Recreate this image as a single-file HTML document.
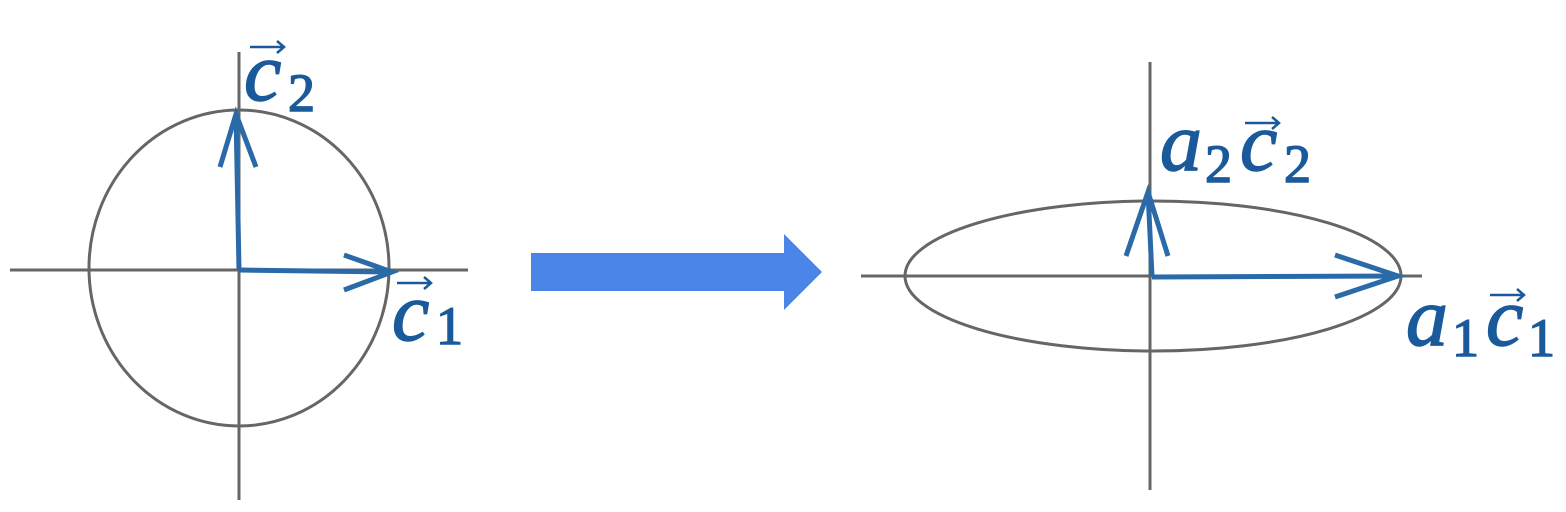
<!DOCTYPE html>
<html><head><style>body{margin:0;background:#fff}svg{display:block}</style></head><body>
<svg width="1566" height="512" viewBox="0 0 1566 512" xmlns="http://www.w3.org/2000/svg">
<g stroke="#666" stroke-width="3" fill="none">
<line x1="10" y1="270" x2="468" y2="270"/>
<line x1="239" y1="52" x2="239" y2="500"/>
<ellipse cx="239" cy="268" rx="150" ry="158"/>
<line x1="861" y1="276" x2="1422" y2="276"/>
<line x1="1150" y1="62" x2="1150" y2="490"/>
<ellipse cx="1153" cy="276" rx="248" ry="75"/>
</g>
<g stroke="#2a6aa8" stroke-width="5" fill="none" stroke-linejoin="miter">
<polyline points="239,270 236,114"/>
<polyline points="220,167 236,114 256,167"/>
<polyline points="239,270 392,272"/>
<polyline points="344,255 392,272 344,290"/>
<polyline points="1152,276 1148,192"/>
<polyline points="1126,256 1148,192 1168,256"/>
<polyline points="1152,277 1398,276"/>
<polyline points="1335,255 1398,276 1335,297"/>
</g>
<rect x="531" y="253" width="253" height="38" fill="#4a86e8"/>
<polygon points="784,234 822,272 784,310" fill="#4a86e8"/>
<g fill="#1a5a9a" font-family="'Liberation Serif',serif" stroke="#1a5a9a" stroke-width="1.5">
<text x="244" y="100" font-size="84" font-style="italic">c</text>
<text x="288" y="111" font-size="54">2</text>
<text x="392" y="340" font-size="84" font-style="italic">c</text>
<text x="436" y="344" font-size="54">1</text>
<text x="1160" y="170" font-size="84" font-style="italic">a</text>
<text x="1205" y="182" font-size="54">2</text>
<text x="1240" y="170" font-size="84" font-style="italic">c</text>
<text x="1284" y="182" font-size="54">2</text>
<text x="1406" y="345" font-size="84" font-style="italic">a</text>
<text x="1452" y="356" font-size="54">1</text>
<text x="1486" y="345" font-size="84" font-style="italic">c</text>
<text x="1528" y="356" font-size="54">1</text>
</g>
<g stroke="#1a5a9a" stroke-width="2.5" fill="none">
<path d="M250 47 H283 M277 41 L284 47 L277 53"/>
<path d="M397 283 H430 M424 277 L431 283 L424 289"/>
<path d="M1245 123 H1278 M1272 117 L1279 123 L1272 129"/>
<path d="M1490 295 H1523 M1517 289 L1524 295 L1517 301"/>
</g>
</svg>
</body></html>
